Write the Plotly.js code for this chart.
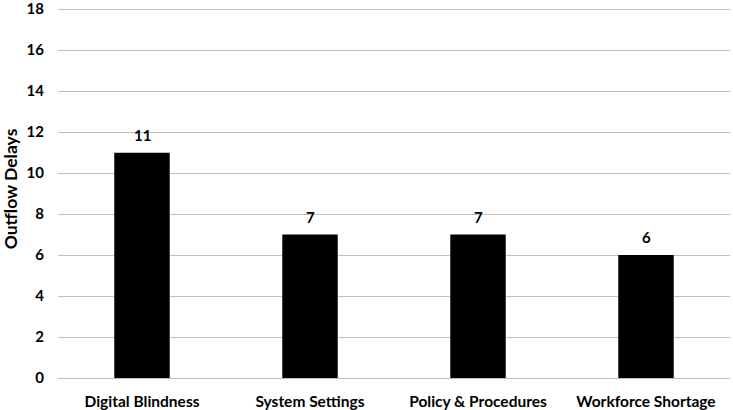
<!DOCTYPE html>
<html><head><meta charset="utf-8">
<script src="https://cdn.plot.ly/plotly-3.0.1.min.js"></script>
<style>html,body{margin:0;padding:0;background:#fff}#c{width:733px;height:410px}</style>
</head><body><div id="c"></div>
<script>
var categories = ["Digital Blindness", "System Settings", "Policy & Procedures", "Workforce Shortage"];
var values = [11, 7, 7, 6];
var yTicks = [0, 2, 4, 6, 8, 10, 12, 14, 16, 18];

var font = "Lato, 'Open Sans', sans-serif";
var annotations = categories.map(function (c, i) {
  return {x: c, y: values[i], xref: "x", yref: "y", text: String(values[i]), showarrow: false,
    yanchor: "middle", yshift: 18, font: {family: font, size: 15, color: "#000", weight: "bold"}};
});
Plotly.newPlot("c", [{
  type: "bar", x: categories, y: values,
  marker: {color: "#000000"},
  width: 0.33,
  cliponaxis: false, hoverinfo: "none"
}], {
  width: 733, height: 410,
  margin: {l: 58, r: 3, t: 0, b: 32},
  paper_bgcolor: "#fff", plot_bgcolor: "#fff",
  showlegend: false,
  font: {family: font, color: "#000"},
  annotations: annotations,
  xaxis: {tickfont: {family: font, size: 15.5, weight: "bold"}, showline: false, ticks: "", automargin: false, ticklabelstandoff: 12},
  yaxis: {range: [0, 18.45], tickvals: yTicks, ticktext: yTicks.map(String), gridcolor: "#bfbfbf", gridwidth: 1,
    zeroline: true, zerolinecolor: "#bfbfbf", zerolinewidth: 1, showline: false, ticklabeloverflow: "allow",
    tickfont: {family: font, size: 15, weight: "bold"}, ticklen: 0, ticks: "", automargin: false, ticklabelstandoff: 13,
    title: {text: "Outflow Delays", font: {family: font, size: 17.5, weight: "bold"}, standoff: 5}}
}, {displayModeBar: false, staticPlot: true});
</script></body></html>
